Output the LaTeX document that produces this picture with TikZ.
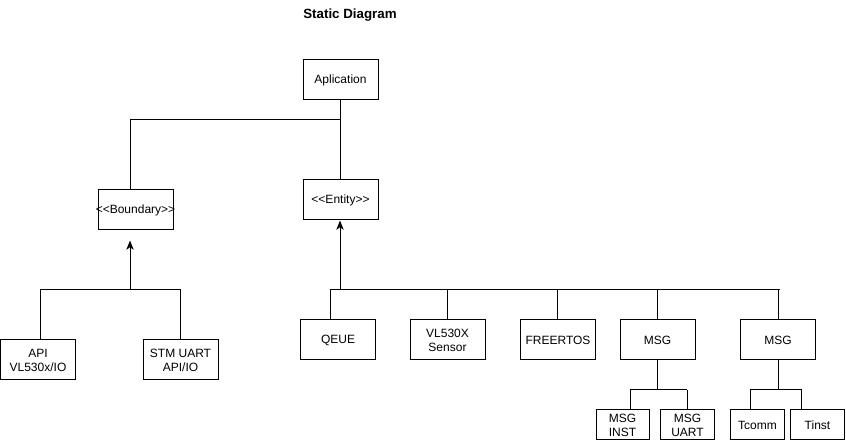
\documentclass[tikz,border=0pt]{standalone}
\usepackage{fontspec}
\setmainfont{Liberation Sans}[Ligatures=TeXOff]
\usetikzlibrary{arrows.meta}
\begin{document}
\begin{tikzpicture}[x=0.75pt,y=-0.75pt,
  line width=0.75pt,
  txt/.style={font=\fontsize{9}{10.5}\selectfont},
  box/.style={draw, txt, minimum width=56.25pt, minimum height=30pt, inner sep=0pt, align=center},
  smallbox/.style={box, minimum width=41pt, minimum height=22.5pt},
  arrow/.style={-{Stealth[length=7pt,width=5.5pt,inset=2pt]}}]
\useasboundingbox (0,0) rectangle (846,441);
\node[font=\fontsize{10}{12}\selectfont\bfseries] (title) at (350,15.5) {Static Diagram};
\node[box] (app) at (340.5,80) {Aplication};
\node[box] (bnd) at (135.5,210) {\makebox[50pt][c]{<<Boundary>>}};
\node[box] (ent) at (340.5,200) {<<Entity>>};
\node[box] (api) at (38,360) {API\\VL530x/IO};
\node[box] (stm) at (180.5,360) {STM UART\\API/IO};
\node[box] (qeue) at (338,340) {QEUE};
\node[box] (vl) at (447.5,340) {VL530X\\Sensor};
\node[box] (free) at (558,340) {FREERTOS};
\node[box] (msga) at (657.5,340) {MSG};
\node[box] (msgb) at (778,340) {MSG};
\node[smallbox, minimum width=39.75pt] (inst) at (622.5,425) {MSG\\INST};
\node[smallbox] (uart) at (687.5,425) {MSG\\UART};
\node[smallbox] (tcomm) at (757.5,425) {Tcomm};
\node[smallbox] (tinst) at (817.5,425) {Tinst};
% application to boundary / entity
\coordinate (ja) at (340,120);
\coordinate (jb) at (130,120);
\draw (app.south -| ja) -- (ja) -- (jb) -- (jb |- bnd.north);
\draw (ja) -- (ja |- ent.north);
% boundary children
\coordinate (jl) at (130,290);
\coordinate (la) at (40,290);
\coordinate (lb) at (180,290);
\draw[arrow] (jl) -- ([yshift=-7.5pt]jl |- bnd.south);
\draw (api.north -| la) -- (la) -- (lb) -- (lb |- stm.north);
% entity children
\coordinate (je) at (340,290);
\coordinate (e1) at (330,290);
\coordinate (e2) at (447,290);
\coordinate (e3) at (557,290);
\coordinate (e4) at (657,290);
\coordinate (e5) at (778,290);
\coordinate (e6) at (780,290);
\draw[arrow] (je) -- (je |- ent.south);
\draw (e1) -- (e6);
\draw (e1) -- (e1 |- qeue.north);
\draw (e2) -- (e2 |- vl.north);
\draw (e3) -- (e3 |- free.north);
\draw (e4) -- (e4 |- msga.north);
\draw (e5) -- (e5 |- msgb.north);
% msg a children
\coordinate (ma) at (657,390);
\coordinate (ma1) at (630,390);
\coordinate (ma2) at (687,390);
\draw (msga.south -| ma) -- (ma);
\draw (ma1) -- (ma2);
\draw (ma1) -- (ma1 |- inst.north);
\draw (ma2) -- (ma2 |- uart.north);
% msg b children
\coordinate (mb) at (778,390);
\coordinate (mb1) at (750,390);
\coordinate (mb2) at (802,390);
\draw (msgb.south -| mb) -- (mb);
\draw (mb1) -- (mb2);
\draw (mb1) -- (mb1 |- tcomm.north);
\draw ([xshift=-0.75pt]mb2) -- ([xshift=-0.75pt]mb2 |- tinst.north);
\end{tikzpicture}
\end{document}
